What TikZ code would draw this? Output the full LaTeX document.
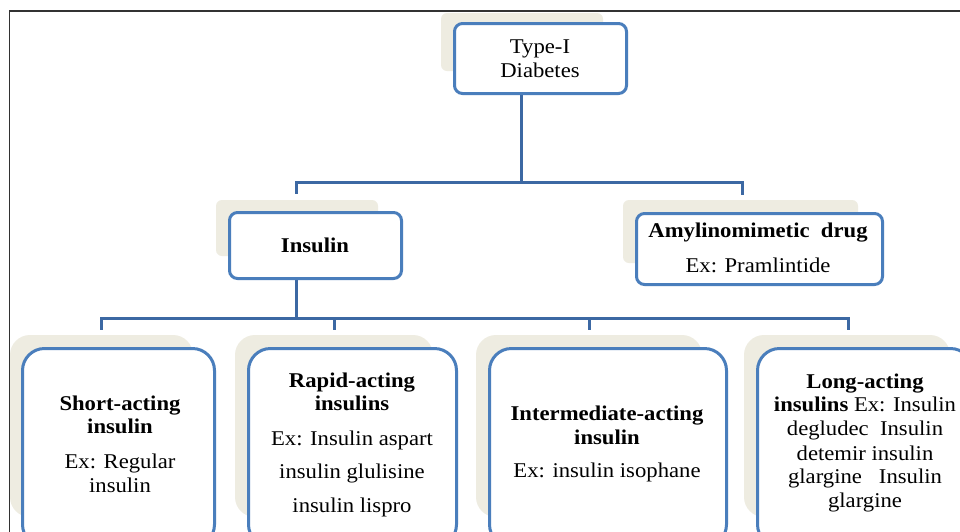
\documentclass[tikz,border=0pt]{standalone}
\usepackage{fontspec}
\setmainfont{Liberation Serif}[FakeStretch=1.08]
\usetikzlibrary{calc}
\definecolor{conn}{RGB}{60,104,163}
\definecolor{bord}{RGB}{74,126,188}
\definecolor{shad}{RGB}{238,236,225}
\definecolor{framecol}{RGB}{50,50,50}
\begin{document}
\begin{tikzpicture}[x=1pt,y=-1pt,
  box/.style={draw=bord, line width=3pt, fill=white, inner sep=0pt, rounded corners=8pt},
  bigbox/.style={box, rounded corners=22pt},
  shadowbox/.style={fill=shad, rounded corners=6pt},
  bigshadow/.style={fill=shad, rounded corners=20pt},
  link/.style={draw=conn, line width=3pt},
  txt/.style={anchor=base, inner sep=0pt, font=\fontsize{21}{23}\selectfont},
  btxt/.style={anchor=base, inner sep=0pt, font=\fontsize{21}{23}\selectfont\bfseries}]
\clip (0,0) rectangle (960,531);
\fill[white] (0,0) rectangle (960,531);
% frame
\draw[framecol, line width=1.5pt] (9.5,535) -- (9.5,11) -- (965,11);

% junction coordinates
\coordinate (j1) at (521,182);
\coordinate (b1) at (296,182);
\coordinate (b2) at (742,182);
\coordinate (j2) at (296,318);
\coordinate (c1) at (101,318);
\coordinate (c2) at (334,318);
\coordinate (c3) at (589,318);
\coordinate (c4) at (848,318);

% boxes (placed first as invisible to get anchors)
\path (540.5,58.5) node[box, draw=none, fill=none, minimum width=169pt, minimum height=67pt] (typeI) {};
\path (315.5,245.5) node[box, draw=none, fill=none, minimum width=169pt, minimum height=63pt] (insulin) {};
\path (759.5,249) node[box, draw=none, fill=none, minimum width=243pt, minimum height=68pt] (amylin) {};
\path (118.5,447.5) node[bigbox, draw=none, fill=none, minimum width=189pt, minimum height=195pt] (short) {};
\path (352.5,447.5) node[bigbox, draw=none, fill=none, minimum width=205pt, minimum height=195pt] (rapid) {};
\path (608,447.5) node[bigbox, draw=none, fill=none, minimum width=234pt, minimum height=195pt] (inter) {};
\path (865,447.5) node[bigbox, draw=none, fill=none, minimum width=212pt, minimum height=195pt] (long) {};

% connectors
\draw[link] (typeI.south -| j1) -- (j1);
\draw[link] ($(insulin.north -| b1)+(0,-19)$) -- (b1) -- (b2) -- ($(amylin.north -| b2)+(0,-19)$);
\draw[link] (insulin.south -| j2) -- (j2);
\draw[link] ($(short.north -| c1)+(0,-19)$) -- (c1) -- (c4) -- ($(long.north -| c4)+(0,-19)$);
\draw[link] (c2) -- ($(rapid.north -| c2)+(0,-19)$);
\draw[link] (c3) -- ($(inter.north -| c3)+(0,-19)$);

% shadows
\path[shadowbox] (441,13) rectangle (603,71);
\path[shadowbox] (216,200) rectangle (378,256);
\path[shadowbox] (623,200) rectangle (858,263);
\path[bigshadow] (10,335) rectangle (193,517);
\path[bigshadow] (235,335) rectangle (433,517);
\path[bigshadow] (476,335) rectangle (702,517);
\path[bigshadow] (744,335) rectangle (950,517);

% visible boxes
\draw[box] (typeI.north west) rectangle (typeI.south east);
\draw[box] (insulin.north west) rectangle (insulin.south east);
\draw[box] (amylin.north west) rectangle (amylin.south east);
\draw[bigbox] (short.north west) rectangle (short.south east);
\draw[bigbox] (rapid.north west) rectangle (rapid.south east);
\draw[bigbox] (inter.north west) rectangle (inter.south east);
\draw[bigbox] (long.north west) rectangle (long.south east);

% texts
\node[txt] (t1a) at (540,53) {Type-I};
\node[txt] (t1b) at (540,77) {Diabetes};
\node[btxt] (t2a) at (315,252) {Insulin};
\node[btxt] (t3a) at (758,237) {Amylinomimetic\ \ drug};
\node[txt] (t3b) at (758,272) {Ex: Pramlintide};
\node[btxt] (t4a) at (120,410) {Short-acting};
\node[btxt] (t4b) at (120,433) {insulin};
\node[txt] (t4c) at (120,468) {Ex: Regular};
\node[txt] (t4d) at (120,492) {insulin};
\node[btxt] (t5a) at (352,387) {Rapid-acting};
\node[btxt] (t5b) at (352,410) {insulins};
\node[txt] (t5c) at (352,445) {Ex: Insulin aspart};
\node[txt] (t5d) at (352,478) {insulin glulisine};
\node[txt] (t5e) at (352,512) {insulin lispro};
\node[btxt] (t6a) at (607,420) {Intermediate-acting};
\node[btxt] (t6b) at (607,444) {insulin};
\node[txt] (t6c) at (607,477) {Ex: insulin isophane};
\node[btxt] (t7a) at (865,388) {Long-acting};
\node[txt] (t7b) at (865,411) {\textbf{insulins} Ex: Insulin};
\node[txt] (t7c) at (865,435) {degludec\ \ Insulin};
\node[txt] (t7d) at (865,460) {detemir insulin};
\node[txt] (t7e) at (865,483) {glargine\ \ \ Insulin};
\node[txt] (t7f) at (865,507) {glargine};
\end{tikzpicture}
\end{document}
